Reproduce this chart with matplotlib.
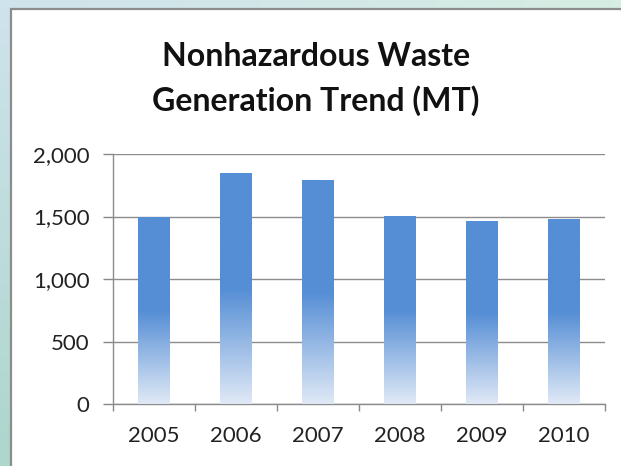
import numpy as np
import matplotlib.pyplot as plt
from matplotlib.colors import LinearSegmentedColormap, to_rgb
from matplotlib.patches import Rectangle

years = ["2005", "2006", "2007", "2008", "2009", "2010"]
waste_mt = [1495, 1842, 1792, 1500, 1464, 1475]
y_ticks = [0, 500, 1000, 1500, 2000]
y_labels = ["0", "500", "1,000", "1,500", "2,000"]

W, H = 621, 466
fig = plt.figure(figsize=(W / 100, H / 100), dpi=100)
plt.rcParams['font.family'] = ['Lato', 'DejaVu Sans']

# soft blue/green background behind the chart panel
bg = fig.add_axes([0, 0, 1, 1], zorder=-10)
tl, tr = np.array(to_rgb('#cfe3ec')), np.array(to_rgb('#d6ede2'))
bl, br = np.array(to_rgb('#add6cc')), np.array(to_rgb('#c8e6da'))
u = np.linspace(0, 1, 64)[None, :, None]
v = np.linspace(0, 1, 64)[:, None, None]
img = (1 - v) * ((1 - u) * tl + u * tr) + v * ((1 - u) * bl + u * br)
bg.imshow(img, extent=[0, 1, 0, 1], aspect='auto', origin='upper')
bg.axis('off')

# white chart panel with grey frame
fig.patches.append(Rectangle((10.5 / W, -0.05), 1.0, 1.05 - 8.5 / H,
                             transform=fig.transFigure, facecolor='white',
                             edgecolor='#8c8c8c', linewidth=1.6, zorder=-5))

fig.text(316 / W, 1 - 56 / H, "Nonhazardous Waste", ha='center', va='center',
         fontsize=23, fontweight='bold', color='#111111')
fig.text(316 / W, 1 - 101 / H, "Generation Trend (MT)", ha='center', va='center',
         fontsize=23, fontweight='bold', color='#111111')

ax = fig.add_axes([113 / W, (H - 404) / H, (605 - 113) / W, 250 / H])
ax.patch.set_alpha(0)
x = np.arange(len(years))
bars = ax.bar(x, waste_mt, width=0.39, color='none', edgecolor='none', zorder=3)

# vertical gradient: pale at the bottom, solid blue over the upper half
cmap = LinearSegmentedColormap.from_list(
    'fade', [(0, '#e0e9f6'), (0.5, '#558ed5'), (1, '#558ed5')])
grad = np.linspace(0, 1, 256).reshape(-1, 1)
for b in bars:
    x0, w, h = b.get_x(), b.get_width(), b.get_height()
    ax.imshow(grad, extent=[x0, x0 + w, 0, h], origin='lower',
              aspect='auto', cmap=cmap, zorder=3)

ax.set_xlim(-0.5, len(years) - 0.5)
ax.set_ylim(0, 2000)
ax.set_yticks(y_ticks)
ax.set_yticklabels(y_labels)
ax.set_xticks(x)
ax.set_xticklabels(years)
ax.set_xticks(np.arange(-0.5, len(years)), minor=True)
ax.tick_params(axis='x', which='major', length=0, pad=16, labelsize=16, colors='#222222')
ax.tick_params(axis='x', which='minor', length=5, width=1, color='#888888')
ax.tick_params(axis='y', length=7, width=1, color='#888888', pad=10,
               labelsize=16, labelcolor='#222222')

ax.yaxis.grid(True, color='#8c8c8c', linewidth=1)
ax.set_axisbelow(True)
for s in ['top', 'right']:
    ax.spines[s].set_visible(False)
for s in ['left', 'bottom']:
    ax.spines[s].set_color('#8c8c8c')
    ax.spines[s].set_linewidth(1)

fig.savefig("out.png", dpi=100)
